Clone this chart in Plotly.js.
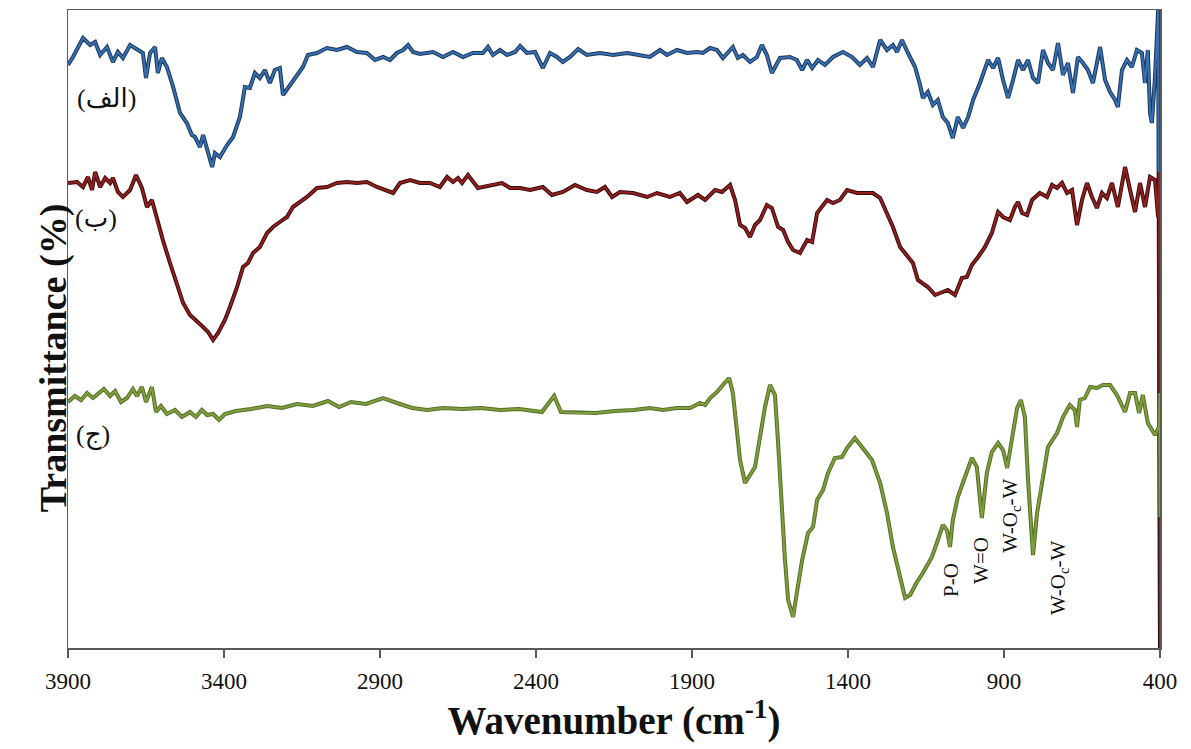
<!DOCTYPE html>
<html>
<head>
<meta charset="utf-8">
<script src="https://cdn.plot.ly/plotly-3.0.1.min.js"></script>
<style>
  html, body { margin: 0; padding: 0; background: #ffffff; }
  #chart { width: 1191px; height: 749px; }
</style>
</head>
<body>
<div id="chart"></div>
<script>
// FTIR spectra (offset transmittance, arbitrary units), wavenumber in cm^-1
const tickValues = [3900, 3400, 2900, 2400, 1900, 1400, 900, 400];
const tickLabels = ["3900", "3400", "2900", "2400", "1900", "1400", "900", "400"];

const seriesLabels = ["(الف)", "(ب)", "(ج)"];

// (الف) – blue
const waveA = [3900,3884,3852,3829,3813,3797,3775,3756,3740,3724,3701,3676,3660,3650,3637,3621,3612,3599,3583,3563,3541,3519,3503,3493,3477,3467,3454,3438,3429,3413,3390,3371,3349,3333,3317,3301,3285,3269,3253,3237,3221,3211,3188,3166,3147,3131,3102,3070,3038,3006,2974,2942,2916,2890,2868,2846,2826,2810,2794,2772,2749,2730,2698,2666,2634,2602,2570,2554,2538,2515,2493,2467,2451,2429,2403,2378,2355,2333,2314,2291,2265,2237,2195,2153,2108,2067,2035,2003,1980,1948,1916,1884,1865,1842,1820,1801,1769,1753,1737,1714,1692,1676,1660,1644,1618,1586,1564,1547,1531,1515,1496,1474,1448,1416,1387,1362,1339,1320,1297,1275,1256,1243,1227,1208,1185,1169,1160,1144,1128,1112,1096,1080,1064,1048,1031,1015,999,977,961,951,935,919,903,887,871,855,839,823,807,791,775,759,743,727,711,695,679,663,647,631,615,592,576,560,544,535,522,506,490,474,458,448,439,432,426,416,406,400];
const transA = [583,591,610,603,606,593,601,586,596,590,603,598,595,570,595,601,575,590,581,561,535,525,513,511,501,513,498,481,495,491,503,511,531,561,560,575,570,578,565,578,580,553,563,573,581,593,595,600,598,601,596,595,588,591,588,595,598,603,596,594,595,596,591,596,591,595,595,601,593,598,593,596,602,595,596,580,595,591,586,591,599,593,595,593,595,593,591,598,593,598,595,596,595,600,598,590,601,590,593,586,591,603,593,575,590,591,588,578,588,580,588,583,591,596,591,583,590,581,608,598,603,596,608,595,581,563,550,556,543,548,531,525,510,531,520,531,548,565,580,588,580,590,568,550,568,588,578,588,570,565,598,585,578,605,573,585,555,591,585,578,565,601,568,556,548,541,578,588,581,598,595,565,598,535,525,571,638,0];

// (ب) – dark red
const waveB = [3900,3871,3852,3836,3823,3813,3797,3781,3765,3756,3740,3724,3701,3682,3663,3647,3631,3615,3596,3573,3551,3531,3509,3487,3467,3451,3435,3419,3397,3381,3358,3339,3323,3307,3285,3262,3243,3221,3198,3179,3156,3134,3102,3070,3038,3006,2974,2942,2910,2884,2858,2836,2804,2772,2740,2708,2685,2666,2650,2637,2618,2586,2547,2509,2483,2451,2419,2378,2349,2314,2275,2237,2205,2179,2156,2131,2089,2044,2012,1971,1939,1916,1881,1858,1826,1804,1778,1762,1746,1730,1714,1698,1682,1660,1644,1624,1608,1592,1576,1554,1531,1515,1499,1483,1467,1448,1426,1403,1371,1339,1320,1297,1275,1256,1233,1211,1192,1176,1160,1144,1121,1099,1080,1057,1035,1019,1003,983,961,939,919,903,881,865,855,842,826,810,785,762,746,730,714,698,682,666,650,634,618,602,586,570,554,535,512,496,480,464,448,432,416,406,403,400];
const transB = [465,466,461,471,458,476,461,470,465,470,456,451,458,473,460,441,448,428,408,385,365,345,333,326,321,316,308,315,328,341,361,381,385,395,401,415,421,426,431,441,446,451,460,461,465,466,465,466,461,458,455,465,468,465,465,461,471,466,470,465,473,460,463,465,460,460,458,461,453,456,463,458,456,461,451,456,455,451,455,451,455,446,453,448,458,456,463,448,423,420,411,423,428,443,440,421,418,406,398,395,408,406,435,441,448,445,448,458,455,455,455,450,435,421,401,393,385,368,365,361,353,356,358,353,370,371,383,391,401,415,436,431,428,441,446,435,433,448,455,451,463,460,465,455,458,423,448,465,451,440,455,450,465,441,481,458,436,465,441,471,468,431,476,0];

// (ج) – olive green
const waveC = [3900,3878,3858,3839,3820,3804,3785,3765,3749,3730,3711,3692,3679,3663,3650,3631,3618,3602,3583,3557,3535,3509,3490,3471,3454,3435,3416,3397,3362,3313,3262,3214,3166,3115,3067,3031,2993,2945,2890,2846,2797,2749,2698,2637,2576,2515,2454,2381,2342,2320,2259,2208,2147,2086,2035,1993,1948,1906,1874,1858,1842,1820,1801,1781,1769,1756,1746,1730,1714,1698,1682,1666,1650,1634,1624,1612,1602,1592,1576,1564,1547,1528,1512,1499,1480,1464,1442,1419,1403,1378,1355,1339,1323,1297,1275,1256,1233,1217,1201,1179,1160,1131,1112,1096,1083,1073,1064,1048,1025,1003,987,971,955,939,919,903,890,874,858,846,833,823,807,794,778,759,730,711,689,673,666,657,641,624,602,583,560,538,512,496,480,467,455,439,416,403,401,400];
const transC = [246,252,248,255,250,254,259,252,257,246,250,259,252,261,246,261,236,242,234,238,231,236,231,238,233,234,228,234,237,239,242,240,244,242,247,241,246,244,250,245,240,238,240,239,240,238,239,236,252,236,235,235,237,238,240,238,240,240,245,243,250,256,263,270,255,221,188,165,173,181,211,241,263,253,205,138,88,48,31,55,88,115,121,148,158,175,190,191,200,210,201,195,188,165,135,101,71,50,53,66,75,91,108,123,118,101,128,151,171,190,181,130,175,196,205,198,180,208,240,248,231,168,93,135,168,201,215,231,243,238,221,248,250,261,260,263,263,253,236,255,255,235,253,225,213,221,255,131];

// band assignments on spectrum (ج)
const bandNames = ["P-O", "W=O", "W-O<sub>c</sub>-W", "W-O<sub>c</sub>-W"];
const bandWave = [1070, 974, 878, 724];
const bandLevel = [68, 88, 132, 70];

const serif = "Liberation Serif, Times New Roman, serif";
const arabicFont = "Liberation Serif, DejaVu Sans, serif";

function pair(x, y, outer, inner) {
  return [
    {x: x, y: y, type: 'scatter', mode: 'lines', hoverinfo: 'skip',
     line: {color: outer, width: 4}, showlegend: false},
    {x: x, y: y, type: 'scatter', mode: 'lines',
     line: {color: inner, width: 2}, showlegend: false}
  ];
}

const traces = [].concat(
  pair(waveA, transA, '#1e3657', '#3570b4'),
  pair(waveB, transB, '#3b0c0c', '#931f1f'),
  pair(waveC, transC, '#566e27', '#7f9f3e')
);

const annotations = [];
const labelPos = [[3778, 550], [3810, 430], [3820, 213]];
seriesLabels.forEach((t, i) => {
  annotations.push({x: labelPos[i][0], y: labelPos[i][1], xref: 'x', yref: 'y',
    text: t, showarrow: false, font: {family: arabicFont, size: 26, color: '#111'}});
});
bandNames.forEach((t, i) => {
  annotations.push({x: bandWave[i], y: bandLevel[i], xref: 'x', yref: 'y',
    text: t, textangle: -90, showarrow: false,
    font: {family: serif, size: 21, color: '#111'}});
});
annotations.push({x: 0, y: 0.455, xref: 'paper', yref: 'paper', xshift: -38,
  text: '<b>Transmittance (%)</b>', textangle: -90, showarrow: false,
  font: {family: serif, size: 38, color: '#111'}});

const layout = {
  width: 1191, height: 749,
  margin: {l: 68, r: 31, t: 10, b: 101},
  paper_bgcolor: '#ffffff', plot_bgcolor: '#ffffff',
  font: {family: serif, color: '#111'},
  showlegend: false,
  xaxis: {
    range: [3900, 400], tickmode: 'array', tickvals: tickValues, ticktext: tickLabels,
    showgrid: false, zeroline: false, showline: true, linecolor: '#5a5a5a', linewidth: 1.5,
    mirror: true, ticks: 'outside', ticklen: 8, tickcolor: '#5a5a5a', tickwidth: 1.5,
    tickfont: {family: serif, size: 23, color: '#111'}, ticklabelstandoff: 4,
    title: {text: '<b>Wavenumber (cm<sup>-1</sup>)</b>', standoff: 8,
            font: {family: serif, size: 39, color: '#111'}}
  },
  yaxis: {
    range: [0, 638], showgrid: false, zeroline: false, showline: true,
    linecolor: '#5a5a5a', linewidth: 1.5, mirror: true, ticks: '', showticklabels: false
  },
  annotations: annotations
};

Plotly.newPlot('chart', traces, layout, {displayModeBar: false, staticPlot: true});
</script>
</body>
</html>
